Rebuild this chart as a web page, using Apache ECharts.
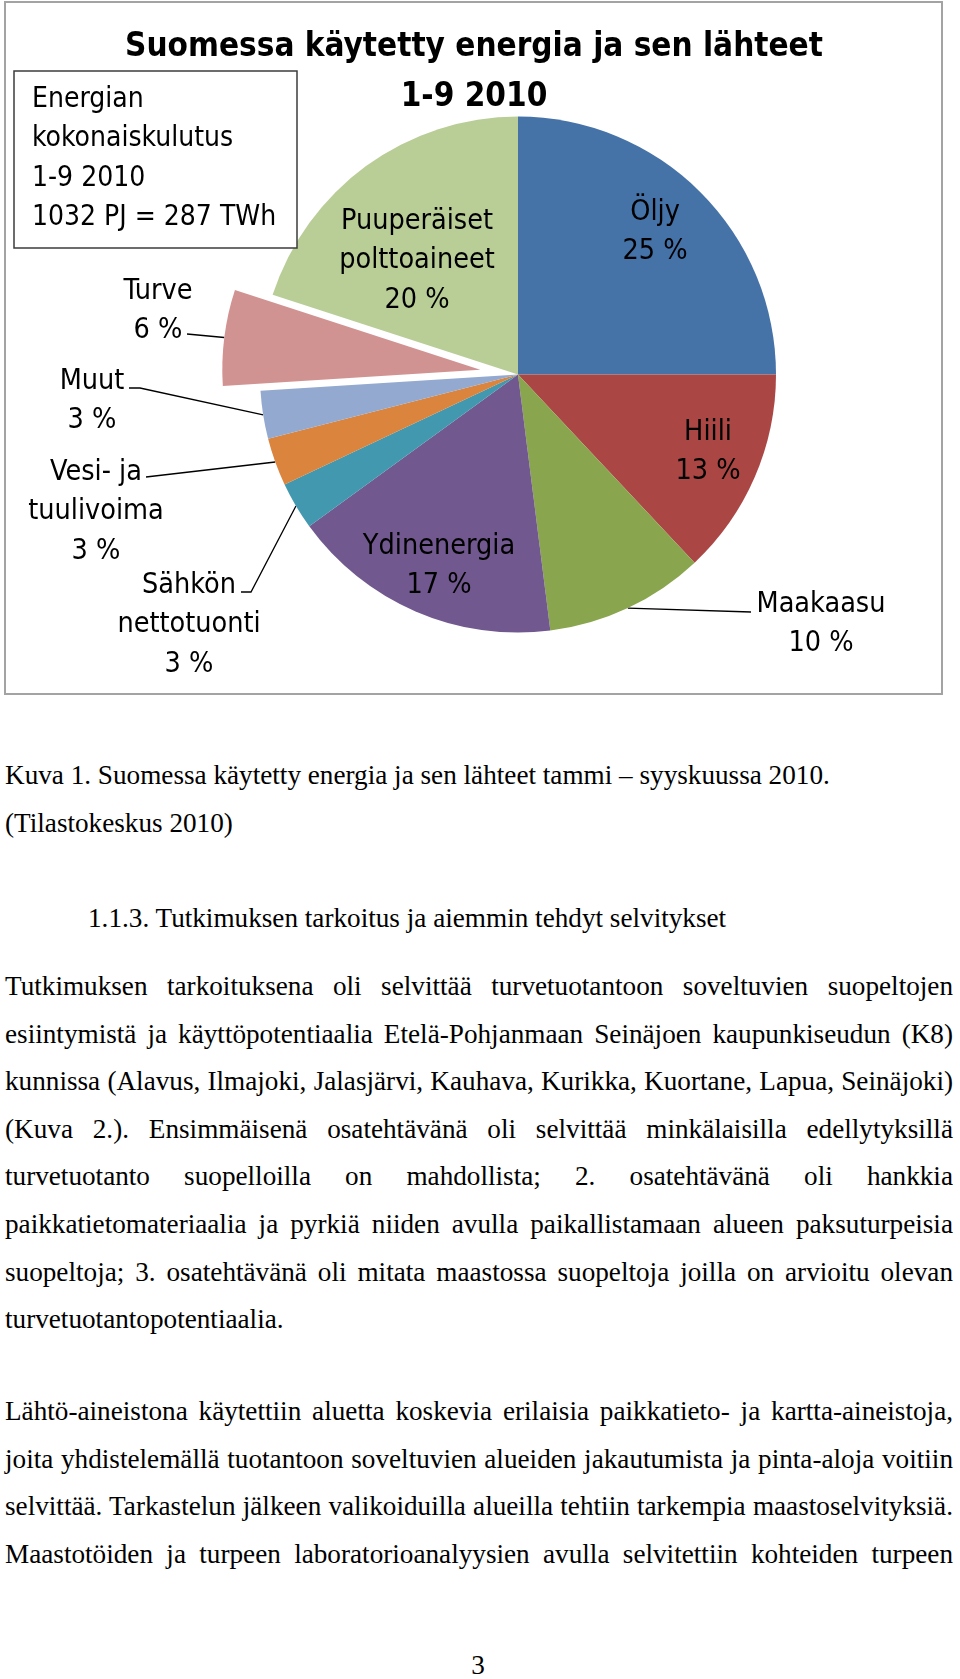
<!DOCTYPE html>
<html>
<head>
<meta charset="utf-8">
<script src="https://cdn.jsdelivr.net/npm/echarts@6/dist/echarts.min.js"></script>
<style>
  html, body { margin: 0; padding: 0; background: #fff; }
  #page { position: relative; width: 960px; height: 1679px; overflow: hidden; background: #fff; }
  #chart { position: absolute; left: 0; top: 0; width: 960px; height: 700px; }
  .ln { position: absolute; font-family: 'Liberation Serif', 'Times New Roman', serif; font-size: 27.2px; line-height: 27.2px; white-space: nowrap; color: #000; }
  .just { text-align: justify; text-align-last: justify; }
</style>
</head>
<body>
<div id="page">
  <div id="chart"></div>
</div>
<script>
// ---- data ----
const categories = ['Öljy', 'Hiili', 'Maakaasu', 'Ydinenergia', 'Sähkön nettotuonti', 'Vesi- ja tuulivoima', 'Muut', 'Turve', 'Puuperäiset polttoaineet'];
const shares = [25, 13, 10, 17, 3, 3, 3, 6, 20];
const labelTexts = ['Öljy', 'Hiili', 'Maakaasu', 'Ydinenergia', 'Sähkön\nnettotuonti', 'Vesi- ja\ntuulivoima', 'Muut', 'Turve', 'Puuperäiset\npolttoaineet'];
const sliceColors = ['#4572A7', '#AA4643', '#89A54E', '#71588F', '#4198AF', '#DB843D', '#93A9CF', '#D19392', '#B9CD96'];
const explodedIndex = 7;
const chartTitle = 'Suomessa käytetty energia ja sen lähteet\n1-9 2010';
const infoBoxLines = ['Energian', 'kokonaiskulutus', '1-9 2010', '1032 PJ = 287 TWh'];

const captionLines = ['Kuva 1. Suomessa käytetty energia ja sen lähteet tammi – syyskuussa 2010.', '(Tilastokeskus 2010)'];
const headingText = '1.1.3. Tutkimuksen tarkoitus ja aiemmin tehdyt selvitykset';
const paragraph1 = [
  'Tutkimuksen tarkoituksena oli selvittää turvetuotantoon soveltuvien suopeltojen',
  'esiintymistä ja käyttöpotentiaalia Etelä-Pohjanmaan Seinäjoen kaupunkiseudun (K8)',
  'kunnissa (Alavus, Ilmajoki, Jalasjärvi, Kauhava, Kurikka, Kuortane, Lapua, Seinäjoki)',
  '(Kuva 2.). Ensimmäisenä osatehtävänä oli selvittää minkälaisilla edellytyksillä',
  'turvetuotanto suopelloilla on mahdollista; 2. osatehtävänä oli hankkia',
  'paikkatietomateriaalia ja pyrkiä niiden avulla paikallistamaan alueen paksuturpeisia',
  'suopeltoja; 3. osatehtävänä oli mitata maastossa suopeltoja joilla on arvioitu olevan',
  'turvetuotantopotentiaalia.'
];
const paragraph2 = [
  'Lähtö-aineistona käytettiin aluetta koskevia erilaisia paikkatieto- ja kartta-aineistoja,',
  'joita yhdistelemällä tuotantoon soveltuvien alueiden jakautumista ja pinta-aloja voitiin',
  'selvittää. Tarkastelun jälkeen valikoiduilla alueilla tehtiin tarkempia maastoselvityksiä.',
  'Maastotöiden ja turpeen laboratorioanalyysien avulla selvitettiin kohteiden turpeen'
];
const pageNumber = '3';

// ---- text page layout ----
const page = document.getElementById('page');
const ASC = 22.78;
function addLine(text, baseline, left, width, justify, align) {
  const d = document.createElement('div');
  d.className = 'ln' + (justify ? ' just' : '');
  d.textContent = text;
  d.style.top = (baseline - ASC) + 'px';
  d.style.left = left + 'px';
  if (width) d.style.width = width + 'px';
  if (align) d.style.textAlign = align;
  page.appendChild(d);
}
addLine(captionLines[0], 785, 5);
addLine(captionLines[1], 833, 5);
addLine(headingText, 928, 88);
const LH = 47.55;
paragraph1.forEach((t, i) => addLine(t, 996 + i * LH, 5, 948, i < paragraph1.length - 1));
paragraph2.forEach((t, i) => addLine(t, 1421 + i * LH, 5, 948, true));
addLine(pageNumber, 1675, 458, 40, false, 'center');

// ---- chart ----
const FONT = "'DejaVu Sans Condensed', 'DejaVu Sans', sans-serif";
const CX = 518, CY = 374.6, R = 258, EXPLODE = 38;
const total = shares.reduce((a, b) => a + b, 0);
const before = shares.slice(0, explodedIndex).reduce((a, b) => a + b, 0);
const midDeg = (before + shares[explodedIndex] / 2) / total * 360;
const midRad = midDeg * Math.PI / 180;
const CX2 = CX + EXPLODE * Math.sin(midRad);
const CY2 = CY - EXPLODE * Math.cos(midRad);

// label anchor positions (block centres) and leader-line end points
const labelPos = {
  0: [655, 232], 1: [708, 452], 2: [821, 624], 3: [439, 566],
  4: [189, 625], 5: [96, 512], 6: [92, 401], 7: [158, 311], 8: [417, 261]
};
const leaderEnds = {
  2: [[751, 612]],
  4: [[251, 592], [241, 592]],
  5: [[146, 477]],
  6: [[140, 388], [129, 388]],
  7: [[187, 334]]
};

function layoutFn(params) {
  const i = params.dataIndex;
  const p = labelPos[i];
  const out = { x: p[0], y: p[1], align: 'center', verticalAlign: 'middle' };
  if (leaderEnds[i] && params.labelLinePoints) {
    out.labelLinePoints = [params.labelLinePoints[0]].concat(leaderEnds[i]);
  }
  return out;
}

const baseLabel = {
  position: 'outside',
  fontFamily: FONT, fontSize: 28.5, lineHeight: 39.5, color: '#000',
  formatter: p => labelTexts[p.dataIndex] + '\n' + p.value + ' %'
};

const mainData = shares.map((v, i) => ({
  name: categories[i], value: v,
  itemStyle: { color: i === explodedIndex ? 'rgba(0,0,0,0)' : sliceColors[i] },
  label: { show: i !== explodedIndex },
  labelLine: { show: i !== explodedIndex && !!leaderEnds[i] }
}));
const explodedData = shares.map((v, i) => ({
  name: categories[i], value: v,
  itemStyle: { color: i === explodedIndex ? sliceColors[i] : 'rgba(0,0,0,0)' },
  label: { show: i === explodedIndex },
  labelLine: { show: i === explodedIndex }
}));

const chart = echarts.init(document.getElementById('chart'), null, { renderer: 'canvas' });
chart.setOption({
  backgroundColor: '#fff',
  animation: false,
  title: {
    text: chartTitle,
    left: 474, top: 22, textAlign: 'center', padding: 0,
    textStyle: { fontFamily: FONT, fontSize: 33, fontWeight: 'bold', lineHeight: 50, color: '#000' }
  },
  graphic: [
    { type: 'rect', z: -10, shape: { x: 5, y: 2, width: 937, height: 692 }, style: { fill: '#fff', stroke: '#a3a3a3', lineWidth: 2 } },
    { type: 'rect', z: 10, shape: { x: 14, y: 71, width: 283, height: 177 }, style: { fill: '#fff', stroke: '#3c3c3c', lineWidth: 1.5 } },
    { type: 'text', z: 11, x: 32, y: 80, style: { text: infoBoxLines.join('\n'), fontFamily: FONT, fontSize: 28, lineHeight: 39.3, fill: '#000', verticalAlign: 'top' } }
  ],
  series: [
    {
      type: 'pie', center: [CX, CY], radius: R, startAngle: 90, clockwise: true,
      avoidLabelOverlap: false, emphasis: { disabled: true },
      itemStyle: { borderWidth: 0 },
      label: baseLabel,
      labelLine: { lineStyle: { color: '#000', width: 1.3 } },
      labelLayout: layoutFn,
      data: mainData
    },
    {
      type: 'pie', center: [CX2, CY2], radius: R, startAngle: 90, clockwise: true,
      avoidLabelOverlap: false, emphasis: { disabled: true },
      itemStyle: { borderWidth: 0 },
      label: baseLabel,
      labelLine: { lineStyle: { color: '#000', width: 1.3 } },
      labelLayout: layoutFn,
      data: explodedData
    }
  ]
});
</script>
</body>
</html>
